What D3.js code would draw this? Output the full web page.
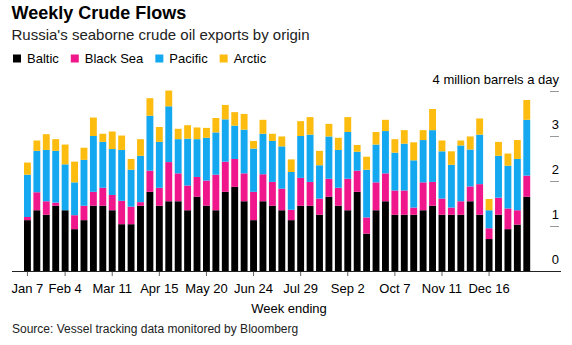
<!DOCTYPE html>
<html>
<head>
<meta charset="utf-8">
<script src="https://cdn.jsdelivr.net/npm/d3@7"></script>
<style>
  html, body { margin: 0; padding: 0; background: #fff; }
  svg { display: block; font-family: "Liberation Sans", Arial, Helvetica, sans-serif; }
</style>
</head>
<body>
<svg id="chart" width="572" height="345"></svg>
<script>
// Week-ending dates (Sundays)
const weeks = [
  "2018-01-07","2018-01-14","2018-01-21","2018-01-28",
  "2018-02-04","2018-02-11","2018-02-18","2018-02-25",
  "2018-03-04","2018-03-11","2018-03-18","2018-03-25",
  "2018-04-01","2018-04-08","2018-04-15","2018-04-22","2018-04-29",
  "2018-05-06","2018-05-13","2018-05-20","2018-05-27",
  "2018-06-03","2018-06-10","2018-06-17","2018-06-24",
  "2018-07-01","2018-07-08","2018-07-15","2018-07-22","2018-07-29",
  "2018-08-05","2018-08-12","2018-08-19","2018-08-26",
  "2018-09-02","2018-09-09","2018-09-16","2018-09-23","2018-09-30",
  "2018-10-07","2018-10-14","2018-10-21","2018-10-28",
  "2018-11-04","2018-11-11","2018-11-18","2018-11-25",
  "2018-12-02","2018-12-09","2018-12-16","2018-12-23","2018-12-30",
  "2019-01-06","2019-01-13"
];

// Exports by origin, million barrels a day
const baltic = [
  1.13,1.35,1.25,1.45,1.35,0.93,1.13,1.45,1.45,1.35,
  1.04,1.04,1.45,1.76,1.45,1.55,1.55,1.35,1.65,1.45,
  1.35,1.76,1.87,1.55,1.13,1.55,1.45,1.35,1.13,1.45,
  1.45,1.25,1.65,1.45,1.35,1.76,0.83,1.35,1.55,1.25,
  1.25,1.25,1.35,1.45,1.25,1.25,1.25,1.55,1.25,0.71,
  1.25,0.93,1.03,1.65
];
const blackSea = [
  0.07,0.40,0.30,0.07,0.00,0.31,0.32,0.31,0.40,0.34,
  0.52,0.39,0.08,0.47,0.40,0.87,0.62,0.55,0.44,0.56,
  0.79,0.67,0.62,0.62,0.63,0.60,0.53,0.48,0.23,0.62,
  0.53,0.36,0.40,0.40,0.70,0.47,0.36,0.62,0.62,0.54,
  0.54,0.16,0.62,0.53,0.36,0.16,0.30,0.33,0.68,0.24,
  0.38,0.46,0.32,0.47
];
const pacific = [
  0.94,0.92,1.14,1.15,1.02,0.73,1.02,1.24,1.02,1.02,
  1.13,0.82,1.03,1.22,1.02,1.24,0.76,1.04,0.84,0.95,
  0.94,0.94,0.74,0.97,0.96,0.90,0.91,0.94,0.84,0.93,
  1.05,0.74,0.94,0.84,1.04,0.42,1.06,0.84,0.94,0.84,
  1.04,1.05,0.94,1.15,1.05,0.95,1.24,0.82,1.10,0.40,
  0.93,0.95,1.14,1.24
];
const arctic = [
  0.27,0.23,0.35,0.26,0.44,0.46,0.27,0.41,0.18,0.39,
  0.32,0.24,0.37,0.39,0.33,0.35,0.23,0.30,0.26,0.22,
  0.32,0.32,0.30,0.35,0.17,0.31,0.16,0.22,0.28,0.33,
  0.39,0.32,0.28,0.27,0.33,0.15,0.29,0.28,0.25,0.30,
  0.30,0.40,0.22,0.47,0.24,0.30,0.11,0.29,0.36,0.25,
  0.31,0.27,0.42,0.44
];

const seriesNames = ["Baltic", "Black Sea", "Pacific", "Arctic"];
const seriesColors = ["#000000", "#f0168c", "#13a8f0", "#fcbc10"];

// Labelled weeks on the date axis
const tickWeeks = ["2018-01-07","2018-02-04","2018-03-11","2018-04-15","2018-05-20",
  "2018-06-24","2018-07-29","2018-09-02","2018-10-07","2018-11-11","2018-12-16"];
const yTicks = [0, 1, 2, 3];
const yTopLabel = "4 million barrels a day";

const parse = d3.timeParse("%Y-%m-%d");
const fmt = d3.timeFormat("%b %-d");

const rows = weeks.map((w, i) => ({
  week: w,
  "Baltic": baltic[i],
  "Black Sea": blackSea[i],
  "Pacific": pacific[i],
  "Arctic": arctic[i]
}));

const svg = d3.select("#chart");

// Header
svg.append("text").attr("x", 11.5).attr("y", 19)
  .attr("font-size", 18).attr("font-weight", "bold").attr("fill", "#000")
  .text("Weekly Crude Flows");
svg.append("text").attr("x", 11.5).attr("y", 39.5)
  .attr("font-size", 15).attr("fill", "#222")
  .text("Russia's seaborne crude oil exports by origin");

// Legend
const legend = svg.append("g");
let lx = 13;
seriesNames.forEach((name, i) => {
  legend.append("rect").attr("x", lx).attr("y", 54.5).attr("width", 8).attr("height", 8)
    .attr("fill", seriesColors[i]);
  const t = legend.append("text").attr("x", lx + 14).attr("y", 63)
    .attr("font-size", 13).attr("fill", "#000").text(name);
  lx += 14 + t.node().getComputedTextLength() + 12;
});

// Scales
const x = d3.scaleBand().domain(weeks).range([24, 530.2]).paddingInner(0.27).paddingOuter(0);
const y = d3.scaleLinear().domain([0, 4]).range([271, 91]);

// Stacked bars
const stack = d3.stack().keys(seriesNames);
const layers = stack(rows);

svg.append("g").selectAll("g")
  .data(layers)
  .join("g")
  .attr("fill", (d, i) => seriesColors[i])
  .selectAll("rect")
  .data(d => d)
  .join("rect")
  .attr("x", d => x(d.data.week))
  .attr("width", x.bandwidth())
  .attr("y", d => y(d[1]))
  .attr("height", d => y(d[0]) - y(d[1]));

// Right-hand value axis: short stubs with labels above them
const axisRight = svg.append("g");
[1, 2, 3, 4].forEach(v => {
  axisRight.append("line")
    .attr("x1", 550).attr("x2", 559)
    .attr("y1", y(v) + 0.5).attr("y2", y(v) + 0.5)
    .attr("stroke", "#999").attr("stroke-width", 1);
});
yTicks.forEach(v => {
  axisRight.append("text").attr("x", 559).attr("y", y(v) - 7)
    .attr("text-anchor", "end").attr("font-size", 13).attr("fill", "#000")
    .text(v);
});
axisRight.append("text").attr("x", 559).attr("y", y(4) - 7)
  .attr("text-anchor", "end").attr("font-size", 13).attr("fill", "#000")
  .text(yTopLabel);

// Date axis
const xAxis = d3.axisBottom(x)
  .tickValues(tickWeeks)
  .tickFormat(d => fmt(parse(d)))
  .tickSize(5)
  .tickPadding(8);

const gx = svg.append("g").attr("transform", `translate(0,${y(0)})`).call(xAxis);
gx.select(".domain").remove();
gx.selectAll(".tick line").attr("stroke", "#666");
gx.selectAll(".tick text").attr("font-size", 13).attr("fill", "#000")
  .attr("font-family", "'Liberation Sans', Arial, Helvetica, sans-serif");
gx.append("line").attr("x1", 12).attr("x2", 561).attr("y1", 0.5).attr("y2", 0.5)
  .attr("stroke", "#222").attr("stroke-width", 1);

svg.append("text").attr("x", 289).attr("y", 313)
  .attr("text-anchor", "middle").attr("font-size", 13).attr("fill", "#000")
  .text("Week ending");

svg.append("text").attr("x", 12).attr("y", 333)
  .attr("font-size", 12).attr("fill", "#222")
  .text("Source: Vessel tracking data monitored by Bloomberg");
</script>
</body>
</html>
